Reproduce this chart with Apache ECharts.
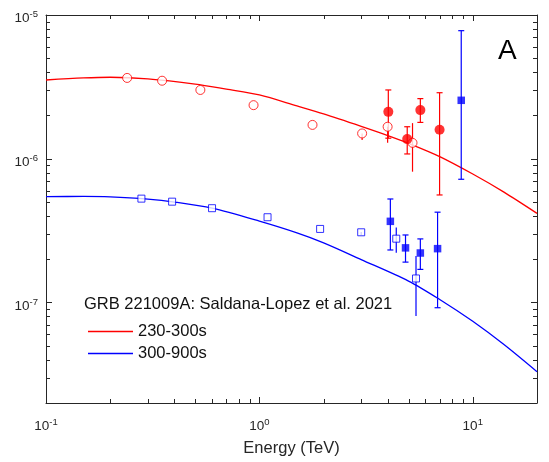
<!DOCTYPE html>
<html>
<head>
<meta charset="utf-8">
<script src="https://cdn.jsdelivr.net/npm/echarts@6/dist/echarts.min.js"></script>
<style>
  html, body { margin: 0; padding: 0; background: #fff; }
  #chart { width: 549px; height: 462px; }
</style>
</head>
<body>
<div id="chart"></div>
<script>
// Axis ranges (TeV, flux)
const xMin = 0.1, xMax = 20;
const yMin = 2e-8, yMax = 1e-5;

// Minor tick values (log axes)
const xMinorTicks = [0.2, 0.3, 0.4, 0.5, 0.6, 0.7, 0.8, 0.9, 2, 3, 4, 5, 6, 7, 8, 9];
const yMinorTicks = [3e-8, 4e-8, 5e-8, 6e-8, 7e-8, 8e-8, 9e-8,
                     2e-7, 3e-7, 4e-7, 5e-7, 6e-7, 7e-7, 8e-7, 9e-7,
                     2e-6, 3e-6, 4e-6, 5e-6, 6e-6, 7e-6, 8e-6, 9e-6];

// Model curves
const redCurveX = [0.1, 0.15, 0.2, 0.3, 0.5, 0.7, 1.0, 1.5, 2.0, 3.0, 4.0, 5.0, 7.0, 10, 14, 20];
const redCurveY = [3.53e-6, 3.65e-6, 3.69e-6, 3.60e-6, 3.31e-6, 3.05e-6, 2.78e-6, 2.33e-6, 2.05e-6,
                   1.68e-6, 1.45e-6, 1.28e-6, 1.035e-6, 7.83e-7, 5.86e-7, 4.17e-7];
const blueCurveX = [0.1, 0.15, 0.2, 0.3, 0.4, 0.6, 1.0, 1.5, 2.0, 3.0, 5.0, 7.0, 10, 14, 20];
const blueCurveY = [5.45e-7, 5.47e-7, 5.43e-7, 5.24e-7, 5.0e-7, 4.53e-7, 3.68e-7, 3.05e-7, 2.60e-7,
                    1.99e-7, 1.41e-7, 1.05e-7, 7.4e-8, 5.1e-8, 3.3e-8];

// 230-300s, open circles
const redOpenX  = [0.240, 0.350, 0.529, 0.939, 1.774, 3.03, 3.99, 5.22];
const redOpenY  = [3.65e-6, 3.49e-6, 3.01e-6, 2.36e-6, 1.72e-6, 1.50e-6, 1.67e-6, 1.29e-6];
const redOpenLo = [null, null, null, null, null, 1.35e-6, 1.29e-6, 8.13e-7];
const redOpenHi = [null, null, null, null, null, 1.50e-6, 1.67e-6, 1.77e-6];

// 230-300s, filled circles
const redFillX  = [4.02, 4.93, 5.68, 6.99];
const redFillY  = [2.12e-6, 1.37e-6, 2.18e-6, 1.59e-6];
const redFillLo = [1.39e-6, 1.08e-6, 1.79e-6, 5.6e-7];
const redFillHi = [3.01e-6, 1.67e-6, 2.62e-6, 2.88e-6];

// 300-900s, open squares
const blueOpenX  = [0.280, 0.390, 0.600, 1.092, 1.926, 3.0, 4.38, 5.42];
const blueOpenY  = [5.28e-7, 5.03e-7, 4.53e-7, 3.92e-7, 3.25e-7, 3.08e-7, 2.78e-7, 1.47e-7];
const blueOpenLo = [null, null, null, null, null, 2.95e-7, 2.22e-7, 8.07e-8];
const blueOpenHi = [null, null, null, null, null, 3.1e-7, 3.32e-7, 2.11e-7];

// 300-900s, filled squares
const blueFillX  = [4.11, 4.84, 5.68, 6.84, 8.83];
const blueFillY  = [3.67e-7, 2.40e-7, 2.21e-7, 2.37e-7, 2.55e-6];
const blueFillLo = [2.32e-7, 1.91e-7, 1.70e-7, 9.2e-8, 7.2e-7];
const blueFillHi = [5.25e-7, 2.95e-7, 2.77e-7, 4.25e-7, 7.78e-6];

const RED = '#ff0000';
const BLUE = '#0000ff';
const AXIS = '#262626';
const FONT = '"Liberation Sans", Arial, Helvetica, sans-serif';

function zip(xs, ys) {
    return xs.map((x, i) => [x, ys[i]]);
}

function errData(xs, lo, hi) {
    const out = [];
    xs.forEach((x, i) => {
        if (lo[i] != null) out.push([x, lo[i], hi[i]]);
    });
    return out;
}

function errorBars(color, withCap) {
    return function(params, api) {
        const x = api.value(0);
        const top = api.coord([x, api.value(2)]);
        const bot = api.coord([x, api.value(1)]);
        const style = { stroke: color, lineWidth: 1.2 };
        const children = [{
            type: 'line',
            shape: { x1: top[0], y1: top[1], x2: bot[0], y2: bot[1] },
            style: style
        }];
        if (withCap) {
            [top, bot].forEach(p => {
                children.push({
                    type: 'line',
                    shape: { x1: p[0] - 3, y1: p[1], x2: p[0] + 3, y2: p[1] },
                    style: style
                });
            });
        }
        return { type: 'group', children: children };
    };
}

// Minor ticks drawn inward on both sides of the box
const tickStyle = { stroke: AXIS, lineWidth: 1 };
const minorLen = 4;

function xMinorTick(params, api) {
    const b = api.coord([api.value(0), yMin]);
    const t = api.coord([api.value(0), yMax]);
    const x = Math.round(b[0]) + 0.5;
    return { type: 'group', children: [
        { type: 'line', shape: { x1: x, y1: b[1], x2: x, y2: b[1] - minorLen }, style: tickStyle },
        { type: 'line', shape: { x1: x, y1: t[1], x2: x, y2: t[1] + minorLen }, style: tickStyle }
    ]};
}

function yMinorTick(params, api) {
    const l = api.coord([xMin, api.value(1)]);
    const r = api.coord([xMax, api.value(1)]);
    const y = Math.round(l[1]) + 0.5;
    return { type: 'group', children: [
        { type: 'line', shape: { x1: l[0], y1: y, x2: l[0] + minorLen, y2: y }, style: tickStyle },
        { type: 'line', shape: { x1: r[0], y1: y, x2: r[0] - minorLen, y2: y }, style: tickStyle }
    ]};
}

function powLabel(v) {
    const e = Math.round(Math.log10(v));
    return '{b|10}{s|' + e + '}';
}

const labelRich = {
    b: { fontSize: 13.5, fontFamily: FONT, color: AXIS },
    s: { fontSize: 9.5, fontFamily: FONT, color: AXIS, padding: [0, 0, 8, 0] }
};

const axisCommon = {
    type: 'log',
    logBase: 10,
    axisLine: { show: true, lineStyle: { color: AXIS, width: 1 } },
    axisTick: { show: true, inside: true, length: 6, lineStyle: { color: AXIS } },
    splitLine: { show: false },
    minorTick: { show: false }
};

const chart = echarts.init(document.getElementById('chart'));

const option = {
    animation: false,
    backgroundColor: '#fff',
    grid: { left: 46, right: 12, top: 15, bottom: 59 },
    xAxis: [
        Object.assign({}, axisCommon, {
            position: 'bottom', min: xMin, max: xMax,
            name: 'Energy (TeV)', nameLocation: 'middle', nameGap: 37,
            nameTextStyle: { fontSize: 16.5, fontFamily: FONT, color: AXIS },
            axisLabel: { formatter: powLabel, rich: labelRich, margin: 14, showMaxLabel: false }
        }),
        Object.assign({}, axisCommon, {
            position: 'top', min: xMin, max: xMax,
            axisLabel: { show: false }
        })
    ],
    yAxis: [
        Object.assign({}, axisCommon, {
            position: 'left', min: yMin, max: yMax,
            axisLabel: { formatter: powLabel, rich: labelRich, margin: 8, padding: [7, 0, 0, 0], showMinLabel: false }
        }),
        Object.assign({}, axisCommon, {
            position: 'right', min: yMin, max: yMax,
            axisLabel: { show: false }
        })
    ],
    legend: {
        data: [
            { name: '230-300s', icon: 'rect' },
            { name: '300-900s', icon: 'rect' }
        ],
        orient: 'vertical',
        left: 83,
        top: 318,
        itemWidth: 45,
        itemHeight: 1.5,
        itemGap: 5,
        textStyle: { fontSize: 16.5, lineHeight: 16, fontFamily: FONT, color: '#111' }
    },
    graphic: [
        {
            type: 'text', left: 84, top: 296,
            style: { text: 'GRB 221009A: Saldana-Lopez et al. 2021', fontSize: 16.5, fontFamily: FONT, fill: '#111' }
        },
        {
            type: 'text', left: 498, top: 37,
            style: { text: 'A', fontSize: 28, fontFamily: FONT, fill: '#000' }
        }
    ],
    series: [
        {
            type: 'custom', renderItem: xMinorTick, silent: true, clip: false, z: 1,
            data: xMinorTicks.map(v => [v, yMin])
        },
        {
            type: 'custom', renderItem: yMinorTick, silent: true, clip: false, z: 1,
            data: yMinorTicks.map(v => [xMin, v])
        },
        {
            name: '230-300s', type: 'line', data: zip(redCurveX, redCurveY),
            smooth: 0.3, showSymbol: false, silent: true,
            itemStyle: { color: RED }, lineStyle: { color: RED, width: 1.3 }, z: 2
        },
        {
            name: '300-900s', type: 'line', data: zip(blueCurveX, blueCurveY),
            smooth: 0.3, showSymbol: false, silent: true,
            itemStyle: { color: BLUE }, lineStyle: { color: BLUE, width: 1.3 }, z: 2
        },
        {
            type: 'custom', renderItem: errorBars(RED, false), clip: false, z: 3,
            data: errData(redOpenX, redOpenLo, redOpenHi)
        },
        {
            type: 'custom', renderItem: errorBars(RED, true), clip: false, z: 3,
            data: errData(redFillX, redFillLo, redFillHi)
        },
        {
            type: 'custom', renderItem: errorBars(BLUE, false), clip: false, z: 3,
            data: errData(blueOpenX, blueOpenLo, blueOpenHi)
        },
        {
            type: 'custom', renderItem: errorBars(BLUE, true), clip: false, z: 3,
            data: errData(blueFillX, blueFillLo, blueFillHi)
        },
        {
            name: 'red open', type: 'scatter', data: zip(redOpenX, redOpenY), z: 4,
            symbol: 'circle', symbolSize: 9,
            itemStyle: { color: '#fff', borderColor: RED, borderWidth: 1 }
        },
        {
            name: 'red filled', type: 'scatter', data: zip(redFillX, redFillY), z: 4,
            symbol: 'circle', symbolSize: 10,
            itemStyle: { color: RED }
        },
        {
            name: 'blue open', type: 'scatter', data: zip(blueOpenX, blueOpenY), z: 4,
            symbol: 'rect', symbolSize: 7,
            itemStyle: { color: '#fff', borderColor: BLUE, borderWidth: 1 }
        },
        {
            name: 'blue filled', type: 'scatter', data: zip(blueFillX, blueFillY), z: 4,
            symbol: 'rect', symbolSize: 7.5,
            itemStyle: { color: BLUE }
        }
    ]
};

chart.setOption(option);
</script>
</body>
</html>
